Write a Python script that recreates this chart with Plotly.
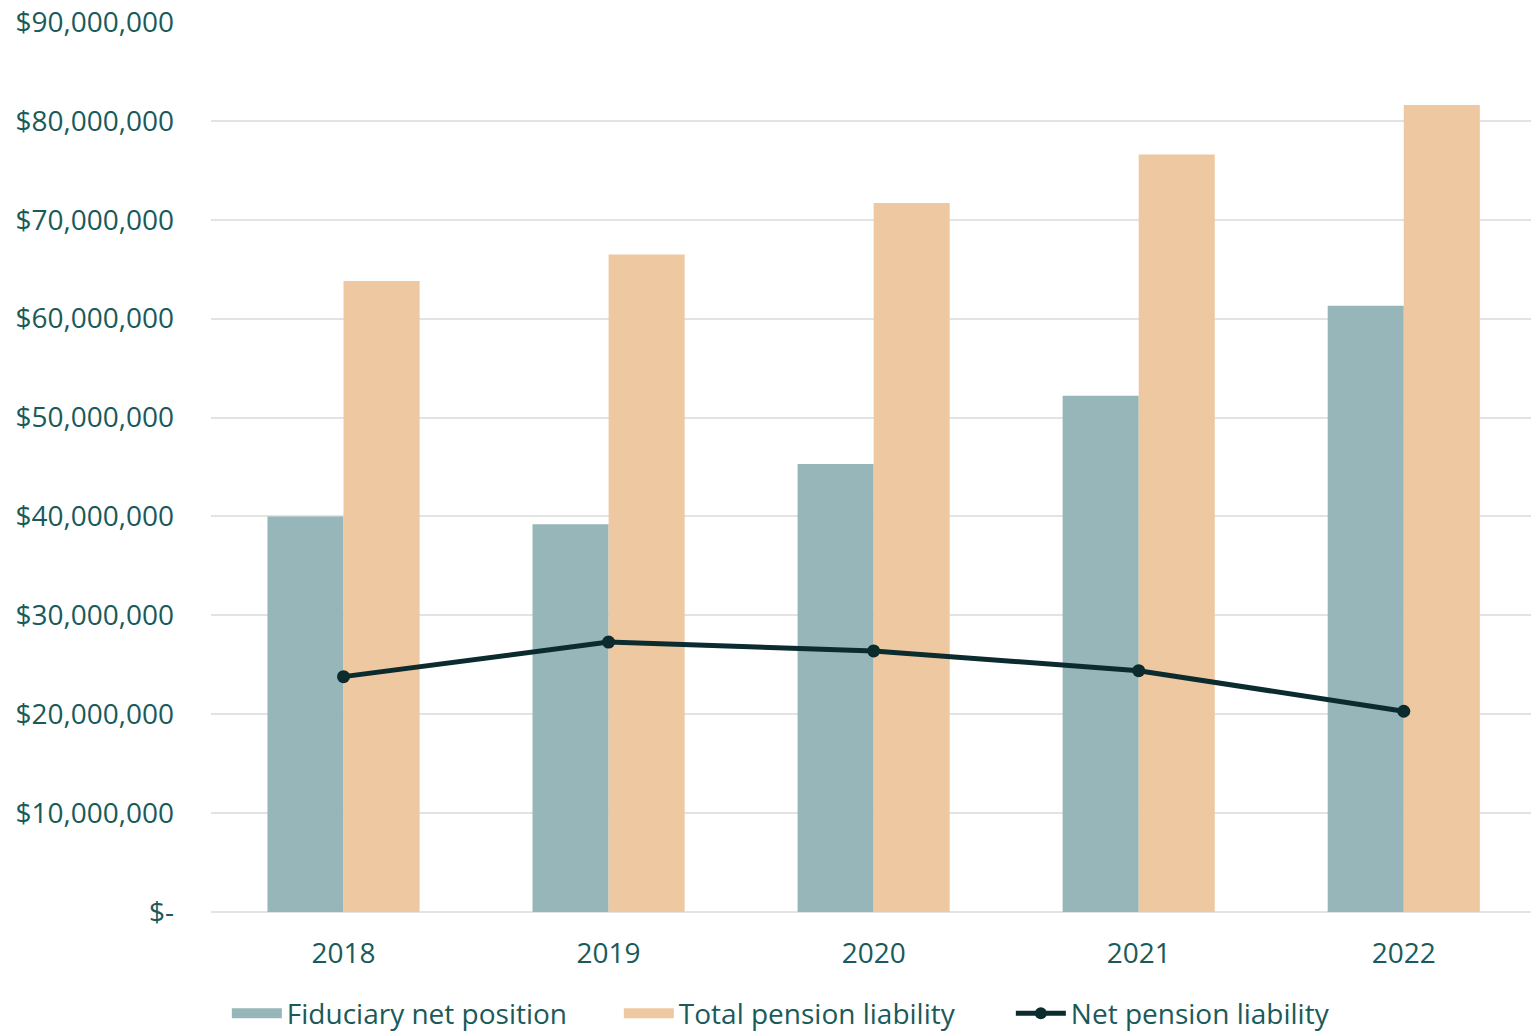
import plotly.graph_objects as go

years = ["2018", "2019", "2020", "2021", "2022"]
fiduciary_net_position = [40.0e6, 39.2e6, 45.3e6, 52.2e6, 61.3e6]
total_pension_liability = [63.8e6, 66.5e6, 71.7e6, 76.6e6, 81.6e6]
net_pension_liability = [23.8e6, 27.3e6, 26.4e6, 24.4e6, 20.3e6]

y_tick_vals = [0, 10e6, 20e6, 30e6, 40e6, 50e6, 60e6, 70e6, 80e6, 90e6]
y_tick_text = ["$-", "$10,000,000", "$20,000,000", "$30,000,000", "$40,000,000",
               "$50,000,000", "$60,000,000", "$70,000,000", "$80,000,000", "$90,000,000"]

TEXT = "#1a5a5a"
FONT = "Open Sans"
FID_COLOR = "#96b6b9"
TPL_COLOR = "#eec8a1"
NPL_COLOR = "#0b2b2e"

fig = go.Figure()
fig.add_trace(go.Bar(
    x=years, y=fiduciary_net_position, name="Fiduciary net position",
    marker=dict(color=FID_COLOR, line=dict(width=0)), showlegend=False,
))
fig.add_trace(go.Bar(
    x=years, y=total_pension_liability, name="Total pension liability",
    marker=dict(color=TPL_COLOR, line=dict(width=0)), showlegend=False,
))
fig.add_trace(go.Scatter(
    x=years, y=net_pension_liability, name="Net pension liability",
    mode="lines+markers",
    line=dict(color=NPL_COLOR, width=5),
    marker=dict(color=NPL_COLOR, size=13),
    showlegend=False,
))

# Legend entries: wide colour swatches for the bars, line with dot for the net series
fig.add_trace(go.Scatter(
    x=[None], y=[None], mode="lines", name="Fiduciary net position",
    line=dict(color=FID_COLOR, width=18), legendrank=1,
))
fig.add_trace(go.Scatter(
    x=[None], y=[None], mode="lines", name="Total pension liability",
    line=dict(color=TPL_COLOR, width=18), legendrank=2,
))
fig.add_trace(go.Scatter(
    x=[None], y=[None], mode="lines+markers", name="Net pension liability",
    line=dict(color=NPL_COLOR, width=5), marker=dict(color=NPL_COLOR, size=12),
    legendrank=3,
))

fig.update_layout(
    width=1531, height=1032,
    margin=dict(l=211, r=0, t=22, b=120, autoexpand=False),
    paper_bgcolor="white", plot_bgcolor="white",
    barmode="group", bargap=0.426, bargroupgap=0,
    font=dict(family=FONT, size=28, color=TEXT),
    showlegend=True,
    legend=dict(
        orientation="h", x=0.012, xanchor="left", y=-0.114, yanchor="middle",
        font=dict(family=FONT, size=28, color=TEXT),
        itemwidth=50, tracegroupgap=0,
        entrywidth=327, entrywidthmode="pixels",
    ),
    xaxis=dict(
        range=[-0.5, 4.48], showgrid=False, showline=False, zeroline=False,
        ticks="", ticklabelstandoff=22,
        tickfont=dict(family=FONT, size=28, color=TEXT),
    ),
    yaxis=dict(
        range=[0, 90e6], tickvals=y_tick_vals, ticktext=y_tick_text,
        showgrid=True, gridcolor="#e3e3e3", gridwidth=2,
        zeroline=True, zerolinecolor="#e3e3e3", zerolinewidth=2,
        showline=False, ticks="", ticklabelstandoff=36,
        tickfont=dict(family=FONT, size=28, color=TEXT),
    ),
)

fig.write_html("out.html")
